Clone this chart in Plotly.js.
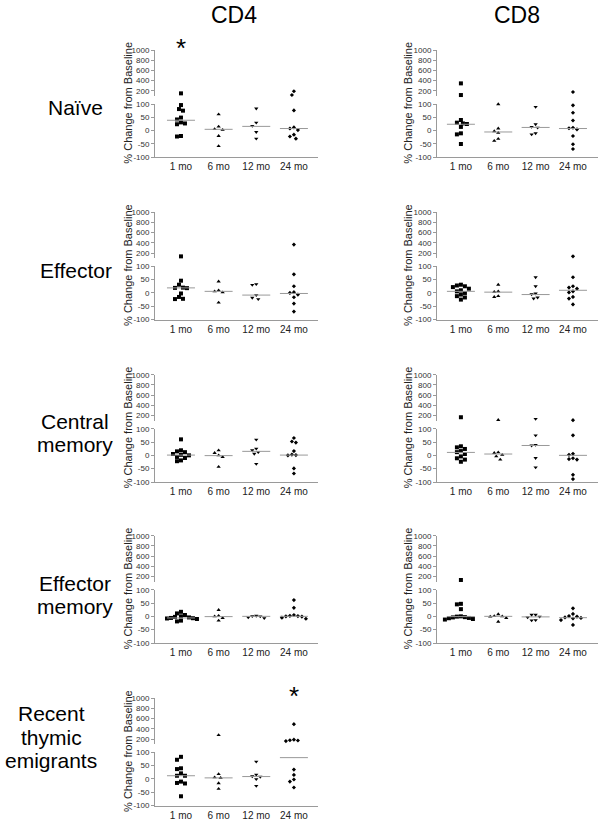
<!DOCTYPE html>
<html><head><meta charset="utf-8">
<script src="https://cdn.plot.ly/plotly-3.0.1.min.js"></script>
<style>body{margin:0;background:#fff}#chart{width:603px;height:820px}</style>
</head><body><div id="chart"></div>
<script>
// ---------------- DATA ----------------
const timepoints = ["1 mo", "6 mo", "12 mo", "24 mo"];
const cellTypes = ["CD4", "CD8"];
const subsets = ["Naïve", "Effector", "Central<br>memory", "Effector<br>memory", "Recent<br>thymic<br>emigrants"];
const yTitle = "% Change from Baseline";
const lowerTicks = [-100, -50, 0, 50, 100];
const upperTicks = [200, 400, 600, 800, 1000];

// % change values per time point [1 mo, 6 mo, 12 mo, 24 mo]
const cd4Naive = [[148, 96, 81, 75, 49, 42, 31, 27, 24, -20, -22], [61, 15, 6, 3, -20, -58], [83, 30, 18, -5, -30], [190, 115, 76, 12, 8, 2, -15, -22, -30]];
const cd4NaiveMed = [39, 5, 16, 8];
const cd8Naive = [[344, 115, 40, 30, 27, 25, 14, -10, -14, -50], [99, 8, -2, -8, -31, -38], [89, 24, 14, 11, -10, -14], [174, 95, 67, 38, 11, 9, 5, -20, -51, -69]];
const cd8NaiveMed = [24, -5, 12, 8];
const cd4Effector = [[134, 46, 31, 20, 19, 18, -2, -15, -22, -23], [43, 10, 6, 2, -36], [33, 30, -8, -18, -23], [366, 70, 25, 3, 0, -6, -16, -40, -70]];
const cd4EffectorMed = [19, 6, -8, -2];
const cd8Effector = [[31, 28, 25, 22, 16, 10, 6, 0, -6, -12, -17, -25], [31, 6, 4, -12, -15], [59, 25, -2, -5, -17, -21], [134, 59, 25, 20, 16, 6, 2, -15, -21, -43]];
const cd8EffectorMed = [6, 3, -6, 10];
const cd4CentralMem = [[60, 19, 15, 12, 5, 2, 0, -6, -10, -19, -22], [19, 9, 0, -6, -43], [59, 25, 19, 12, 6, -32], [65, 52, 48, 16, 3, 1, 0, -49, -68]];
const cd4CentralMemMed = [1, -1, 15, 1];
const cd8CentralMem = [[164, 34, 30, 24, 16, 12, 5, -4, -11, -16, -24], [110, 11, 9, 2, -4, -16], [130, 75, 39, 37, -10, -45], [1086, 107, 75, 6, 2, -11, -14, -16, -73, -89]];
const cd8CentralMemMed = [11, 5, 37, 0];
const cd4EffectorMem = [[17, 11, 5, 0, -2, -4, -6, -7, -8, -10, -16, -19], [24, 2, 0, -6, -16], [2, 1, 0, -4, -7], [61, 32, 5, 2, 1, 0, -1, -5, -9]];
const cd4EffectorMemMed = [-6, -1, 0, 0];
const cd8EffectorMem = [[130, 47, 45, 27, 0, -1, -3, -4, -6, -7, -10, -12], [8, 1, 0, -1, -6, -20], [6, 6, -1, -4, -14, -15], [30, 9, 1, -1, -4, -6, -8, -14, -32]];
const cd8EffectorMemMed = [-1, 0, -2, -5];
const cd4RTE = [[83, 72, 40, 37, 21, 12, 12, -10, -15, -17, -65], [278, 18, 6, 4, -16, -37], [65, 16, 10, 8, -1, -26], [492, 187, 175, 170, 160, 35, 15, -2, -10, -32]];
const cd4RTEMed = [12, 4, 9, 80];
// significance marks: [panel index, time point index]
const significant = [[0, 0], [8, 3]];

// ---------------- LAYOUT GEOMETRY ----------------
const W = 603, H = 820;
const FONT = "Liberation Sans, Arial, sans-serif";
const colGeom = [
  {x0: 155, x1: 318, r0: -0.69, r1: 3.64, titleX: 128, headX: 234},
  {x0: 437, x1: 598, r0: -0.64, r1: 3.67, titleX: 408, headX: 517}
];
const rowTop = [50, 212.3, 374.7, 535.7, 698.3];
const UPPER_H = 45.8, LOWER_TOP = 54, LOWER_BOT = 107.3;
const UPPER_MIN = 100, UPPER_MAX = 1000, LOWER_MIN = -100, LOWER_MAX = 100;
const rowLabelX = [75, 76, 75, 75, 51];
const rowLabelY = [107, 270, 433, 595, 737];
const LABEL_LINE = 23.5;

const panels = [
  {row: 0, col: 0, vals: cd4Naive, med: cd4NaiveMed},
  {row: 0, col: 1, vals: cd8Naive, med: cd8NaiveMed},
  {row: 1, col: 0, vals: cd4Effector, med: cd4EffectorMed},
  {row: 1, col: 1, vals: cd8Effector, med: cd8EffectorMed},
  {row: 2, col: 0, vals: cd4CentralMem, med: cd4CentralMemMed},
  {row: 2, col: 1, vals: cd8CentralMem, med: cd8CentralMemMed},
  {row: 3, col: 0, vals: cd4EffectorMem, med: cd4EffectorMemMed},
  {row: 3, col: 1, vals: cd8EffectorMem, med: cd8EffectorMemMed},
  {row: 4, col: 0, vals: cd4RTE, med: cd4RTEMed}
];

const symbols = ["square", "triangle-up", "triangle-down", "diamond"];
const sizes = [4, 3.8, 3.8, 3.2];
const AX = "#9a9a9a", TXT = "#222";

function pyOf(v, T) {
  if (v > LOWER_MAX) return T + (UPPER_MAX - v) / (UPPER_MAX - UPPER_MIN) * UPPER_H;
  return T + LOWER_TOP + (LOWER_MAX - v) / (LOWER_MAX - LOWER_MIN) * (LOWER_BOT - LOWER_TOP);
}
function swarm(pys, dmin, step) {
  const order = pys.map((p, i) => i).sort((a, b) => pys[a] - pys[b]);
  const off = new Array(pys.length).fill(0), placed = [];
  for (const i of order) {
    for (let k = 0; k < 60; k++) {
      const o = k === 0 ? 0 : (k % 2 ? -1 : 1) * Math.ceil(k / 2) * step;
      if (placed.every(j => Math.hypot(off[j] - o, pys[j] - pys[i]) >= dmin)) { off[i] = o; break; }
    }
    placed.push(i);
  }
  return off;
}

const traces = [];
const layout = {
  width: W, height: H, margin: {l: 0, r: 0, t: 0, b: 0},
  paper_bgcolor: "#fff", plot_bgcolor: "rgba(0,0,0,0)",
  showlegend: false, font: {family: FONT, color: TXT},
  annotations: []
};

panels.forEach((p, k) => {
  const cg = colGeom[p.col], T = rowTop[p.row];
  const xa = k === 0 ? "x" : "x" + (k + 1);
  const yl = k === 0 ? "y" : "y" + (2 * k + 1);
  const yu = "y" + (2 * k + 2);
  const xKey = "xaxis" + (k === 0 ? "" : k + 1);
  const ylKey = "yaxis" + (k === 0 ? "" : 2 * k + 1);
  const yuKey = "yaxis" + (2 * k + 2);
  const pxPerUnit = (cg.x1 - cg.x0) / (cg.r1 - cg.r0);

  layout[xKey] = {
    domain: [cg.x0 / W, cg.x1 / W], range: [cg.r0, cg.r1], anchor: yl,
    showline: true, linecolor: AX, linewidth: 1, ticks: "", showgrid: false, zeroline: false,
    tickvals: timepoints.map((t, i) => i), ticktext: timepoints,
    tickfont: {size: 10, color: TXT, family: FONT}, fixedrange: true
  };
  const common = {
    anchor: xa, showline: true, linecolor: AX, linewidth: 1, ticks: "outside", ticklen: 3,
    tickcolor: AX, tickwidth: 1, showgrid: false, zeroline: false,
    tickfont: {size: 8, color: "#333", family: FONT}, fixedrange: true
  };
  layout[ylKey] = Object.assign({}, common, {
    domain: [1 - (T + LOWER_BOT) / H, 1 - (T + LOWER_TOP) / H],
    range: [LOWER_MIN, LOWER_MAX], tickvals: lowerTicks, ticktext: lowerTicks.map(String)
  });
  layout[yuKey] = Object.assign({}, common, {
    domain: [1 - (T + UPPER_H) / H, 1 - T / H],
    range: [UPPER_MIN, UPPER_MAX], tickvals: upperTicks, ticktext: upperTicks.map(String)
  });

  // make sure the upper segment subplot always exists
  traces.push({type: "scatter", mode: "markers", x: [], y: [], xaxis: xa, yaxis: yu, hoverinfo: "skip"});

  p.vals.forEach((vals, g) => {
    const pys = vals.map(v => pyOf(v, T));
    const off = swarm(pys, 4.0, 2.0);
    const lo = {x: [], y: []}, up = {x: [], y: []};
    vals.forEach((v, i) => {
      const tgt = v > LOWER_MAX ? up : lo;
      tgt.x.push(g + off[i] / pxPerUnit); tgt.y.push(v);
    });
    const mk = {symbol: symbols[g], size: sizes[g], color: "#000", line: {width: 0}};
    [[lo, yl], [up, yu]].forEach(([d, ya]) => {
      if (d.x.length) traces.push({type: "scatter", mode: "markers", x: d.x, y: d.y, xaxis: xa, yaxis: ya,
        marker: mk, cliponaxis: false, hoverinfo: "skip"});
    });
    const hw = 14 / pxPerUnit;
    traces.push({type: "scatter", mode: "lines", x: [g - hw, g + hw], y: [p.med[g], p.med[g]],
      xaxis: xa, yaxis: yl, line: {color: "#999", width: 1}, hoverinfo: "skip"});
  });

  layout.annotations.push({
    xref: "paper", yref: "paper", x: cg.titleX / W, y: 1 - (T + LOWER_BOT / 2 - 1) / H,
    text: yTitle, textangle: -90, showarrow: false, xanchor: "center", yanchor: "middle",
    font: {size: 11, color: "#222", family: FONT}
  });
});

// column headers
cellTypes.forEach((c, i) => layout.annotations.push({
  xref: "paper", yref: "paper", x: colGeom[i].headX / W, y: 1 - 15 / H, text: c, showarrow: false,
  xanchor: "center", yanchor: "middle", font: {size: 23, color: "#000", family: FONT}
}));
// row labels, one annotation per text line
subsets.forEach((s, r) => {
  const lines = s.split("<br>");
  lines.forEach((ln, i) => layout.annotations.push({
    xref: "paper", yref: "paper", x: rowLabelX[r] / W,
    y: 1 - (rowLabelY[r] + (i - (lines.length - 1) / 2) * LABEL_LINE) / H,
    text: ln, showarrow: false, xanchor: "center", yanchor: "middle",
    font: {size: 21, color: "#000", family: FONT}
  }));
});
// significance asterisks
significant.forEach(([k, g]) => {
  const p = panels[k], cg = colGeom[p.col];
  const pxPerUnit = (cg.x1 - cg.x0) / (cg.r1 - cg.r0);
  const px = cg.x0 + (g - cg.r0) * pxPerUnit;
  layout.annotations.push({
    xref: "paper", yref: "paper", x: px / W, y: 1 - (rowTop[p.row] - 2) / H, text: "*", showarrow: false,
    xanchor: "center", yanchor: "middle", font: {size: 26, color: "#000", family: FONT}
  });
});

Plotly.newPlot("chart", traces, layout, {staticPlot: true, displayModeBar: false});
</script></body></html>
